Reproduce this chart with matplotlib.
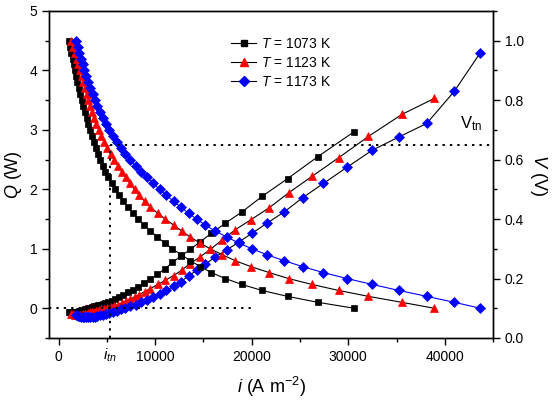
import matplotlib
matplotlib.use('Agg')
import matplotlib.pyplot as plt
import matplotlib.transforms as mtransforms
from matplotlib.lines import Line2D
from matplotlib.ticker import MultipleLocator, FormatStrFormatter

plt.rcParams['font.family'] = ['Liberation Sans', 'DejaVu Sans']
plt.rcParams['mathtext.fontset'] = 'custom'
plt.rcParams['mathtext.rm'] = 'Liberation Sans'
plt.rcParams['mathtext.it'] = 'Liberation Sans:italic'

# cell voltage levels (V), shared by the three temperatures
V_levels = [1.00, 0.98, 0.96, 0.94, 0.92, 0.90, 0.88, 0.86, 0.84, 0.82,
            0.80, 0.78, 0.76, 0.74, 0.72, 0.70, 0.68, 0.66, 0.64, 0.62,
            0.60, 0.58, 0.56, 0.54, 0.52, 0.50, 0.48, 0.46, 0.44, 0.42,
            0.40, 0.38, 0.36, 0.34, 0.32, 0.30, 0.28, 0.26, 0.24, 0.22,
            0.20, 0.18, 0.16, 0.14, 0.12, 0.10]

# current density (A m-2)
i_1073 = [1080, 1200, 1320, 1440, 1560, 1690, 1820, 1950, 2090, 2240,
          2400, 2560, 2720, 2890, 3060, 3240, 3430, 3630, 3840, 4060,
          4300, 4560, 4840, 5150, 5490, 5860, 6260, 6700, 7180, 7700,
          8260, 8860, 9510, 10210, 10970, 11790, 12680, 13640, 14670, 15810,
          17260, 18990, 21060, 23710, 26850, 30610]
i_1123 = [1320, 1500, 1680, 1860, 2040, 2220, 2390, 2560, 2730, 2900,
          3070, 3250, 3440, 3640, 3880, 4140, 4420, 4720, 5040, 5380,
          5740, 6120, 6520, 6940, 7390, 7860, 8360, 8900, 9500, 10250,
          11050, 11900, 12750, 13600, 14620, 15700, 16950, 18290, 19920, 21810,
          23810, 26260, 28990, 32090, 35550, 38920]
i_1173 = [1830, 1990, 2150, 2310, 2480, 2660, 2850, 3060, 3280, 3510,
          3760, 4020, 4300, 4600, 4920, 5260, 5630, 6030, 6460, 6920,
          7420, 7960, 8540, 9150, 9800, 10470, 11170, 11900, 12660, 13450,
          14280, 15180, 16200, 17400, 18630, 20020, 21570, 23360, 25280, 27430,
          29860, 32500, 35240, 38140, 40990, 43690]

# heat (W)
Q_1073 = [-0.06, -0.065, -0.07, -0.07, -0.07, -0.065, -0.06, -0.055, -0.05, -0.045,
          -0.04, -0.03, -0.02, -0.01, 0.0, 0.01, 0.02, 0.03, 0.04, 0.05,
          0.06, 0.075, 0.09, 0.11, 0.13, 0.16, 0.19, 0.23, 0.27, 0.31,
          0.36, 0.42, 0.49, 0.57, 0.66, 0.77, 0.88, 0.99, 1.12, 1.26,
          1.43, 1.62, 1.88, 2.18, 2.55, 2.97]
Q_1123 = [-0.09, -0.10, -0.105, -0.11, -0.11, -0.11, -0.105, -0.10, -0.095, -0.09,
          -0.08, -0.07, -0.06, -0.05, -0.04, -0.03, -0.02, -0.01, 0.0, 0.02,
          0.04, 0.06, 0.09, 0.12, 0.15, 0.19, 0.23, 0.28, 0.33, 0.40,
          0.47, 0.55, 0.64, 0.75, 0.86, 0.99, 1.15, 1.32, 1.49, 1.69,
          1.94, 2.22, 2.53, 2.89, 3.26, 3.53]
Q_1173 = [-0.11, -0.125, -0.135, -0.145, -0.15, -0.155, -0.155, -0.155, -0.15, -0.145,
          -0.14, -0.13, -0.12, -0.11, -0.095, -0.08, -0.06, -0.04, -0.02, 0.0,
          0.03, 0.06, 0.10, 0.14, 0.19, 0.24, 0.30, 0.37, 0.45, 0.54,
          0.64, 0.74, 0.86, 0.98, 1.11, 1.26, 1.43, 1.62, 1.86, 2.10,
          2.37, 2.66, 2.88, 3.11, 3.65, 4.30]

labels = [r'$T$ = 1073 K', r'$T$ = 1123 K', r'$T$ = 1173 K']
i_tn = 5350
V_tn = 0.65

series = [
    (i_1073, Q_1073, 's', 5.0, 'black', 'black'),
    (i_1123, Q_1123, '^', 5.8, '#ff0000', 'black'),
    (i_1173, Q_1173, 'D', 4.8, '#0000ff', '#0000ff'),
]

fig = plt.figure(figsize=(5.59, 4.04), dpi=100)
ax = fig.add_axes([0.0877, 0.1634, 0.7943, 0.8094])
ax2 = ax.twinx()

handles = []
for (ii, qq, mk, ms, col, vline), lab in zip(series, labels):
    ax.plot(ii, qq, color='black', lw=0.8, marker=mk, ms=ms,
            mfc=col, mec=col, mew=0.5)
    ax2.plot(ii, V_levels, color=vline, lw=0.8, marker=mk, ms=ms,
             mfc=col, mec=col, mew=0.5)
    handles.append(Line2D([], [], color='black', lw=0.8, marker=mk, ms=ms,
                          mfc=col, mec=col, label=lab))

dots = (0, (1.2, 2.6))
ax.plot([-1000, 20000], [0, 0], color='black', lw=1.4, ls=dots)
ax2.plot([i_tn, i_tn], [0, V_tn], color='black', lw=1.4, ls=dots)
ax2.plot([i_tn, 45000], [V_tn, V_tn], color='black', lw=1.4, ls=dots)

ax.set_xlim(-1000, 45000)
ax.set_ylim(-0.5, 5)
ax2.set_ylim(0, 1.1)

ax.xaxis.set_major_locator(MultipleLocator(10000))
ax.xaxis.set_minor_locator(MultipleLocator(5000))
ax.yaxis.set_major_locator(MultipleLocator(1))
ax.yaxis.set_minor_locator(MultipleLocator(0.5))
ax2.yaxis.set_major_locator(MultipleLocator(0.2))
ax2.yaxis.set_minor_locator(MultipleLocator(0.1))
ax2.yaxis.set_major_formatter(FormatStrFormatter('%.1f'))

for a in (ax, ax2):
    a.tick_params(which='major', direction='out', length=5, width=1,
                  labelsize=10, top=False)
    a.tick_params(which='minor', direction='out', length=3, width=1, top=False)
    for s in a.spines.values():
        s.set_linewidth(1.0)

ax.set_xlabel(r'$i$ (A m$^{-2}$)', fontsize=13, labelpad=8)
ax.set_ylabel(r'$Q$ (W)', fontsize=13, labelpad=4)
ax2.set_ylabel(r'$V$ (V)', fontsize=13, rotation=270, labelpad=18)

trans = mtransforms.blended_transform_factory(ax.transData, ax.transAxes)
ax.text(i_tn, -0.025, r'$i_{tn}$', transform=trans, fontsize=11,
        ha='center', va='top')
ax2.text(41600, 0.69, r'V$_{\mathrm{tn}}$', fontsize=12, ha='left', va='bottom')

ax.legend(handles=handles, loc='upper left', bbox_to_anchor=(0.41, 0.92),
          frameon=False, fontsize=10, handlelength=1.8, handletextpad=0.36,
          labelspacing=0.35, borderpad=0, borderaxespad=0, numpoints=1)

fig.savefig('out.png', dpi=100)
